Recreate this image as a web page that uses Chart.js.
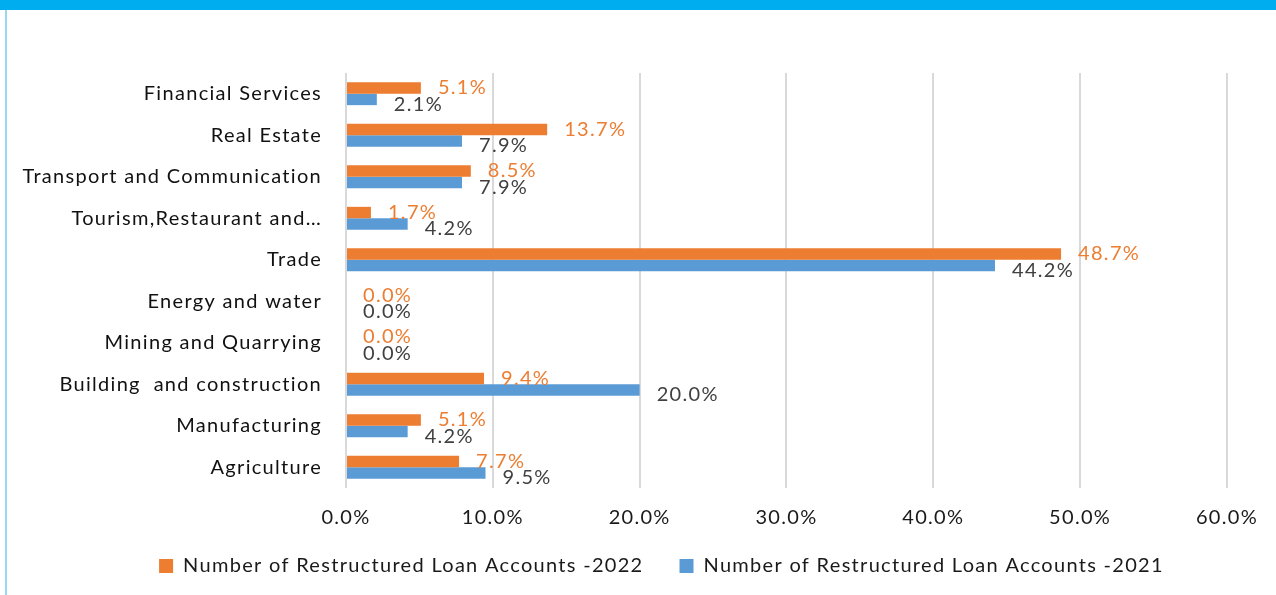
<!DOCTYPE html>
<html>
<head>
<meta charset="utf-8">
<script src="https://cdn.jsdelivr.net/npm/chart.js@4/dist/chart.umd.min.js"></script>
<style>
  html, body { margin: 0; padding: 0; background: #fff; }
  #wrap { position: relative; width: 1276px; height: 595px; overflow: hidden; }
  #band { position: absolute; left: 0; top: 0; width: 1276px; height: 10px; background: #00AEEF; }
  #edge { position: absolute; left: 5px; top: 10px; width: 2px; height: 585px; background: #9ad7f2; }
  #chart1 { position: absolute; left: 0; top: 0; }
</style>
</head>
<body>
<div id="wrap">
  <div id="band"></div>
  <div id="edge"></div>
  <canvas id="chart1" width="1276" height="595"></canvas>
</div>
<script>
// sectors, top to bottom as shown
const sectors = [
  "Financial Services",
  "Real Estate",
  "Transport and Communication",
  "Tourism,Restaurant and\u2026",
  "Trade",
  "Energy and water",
  "Mining and Quarrying",
  "Building  and construction",
  "Manufacturing",
  "Agriculture"
];

// share of restructured loan accounts (%)
const accounts2022 = [5.1, 13.7, 8.5, 1.7, 48.7, 0.0, 0.0, 9.4, 5.1, 7.7];
const accounts2021 = [2.1, 7.9, 7.9, 4.2, 44.2, 0.0, 0.0, 20.0, 4.2, 9.5];

const xTicks = [0, 10, 20, 30, 40, 50, 60];

const FONT = "Lato, 'Open Sans', sans-serif";

// the source text is spread out a little, like Excel renders it
const spacing = {
  id: "spacing",
  beforeUpdate(chart) { chart.ctx.letterSpacing = "1.3px"; },
  beforeDraw(chart) { chart.ctx.letterSpacing = "1.3px"; }
};

// tick labels may run outside their scale box (long sector names, x labels over the legend gap)
function noLabelClip(scale) {
  scale._computeLabelArea = () => undefined;
}

// value labels at the end of each bar
const barLabels = {
  id: "barLabels",
  afterDatasetsDraw(chart) {
    const ctx = chart.ctx;
    ctx.save();
    ctx.font = "20px " + FONT;
    ctx.textAlign = "left";
    ctx.textBaseline = "middle";
    chart.data.datasets.forEach((ds, i) => {
      const meta = chart.getDatasetMeta(i);
      ctx.fillStyle = i === 0 ? "#ED7D31" : "#404040";
      meta.data.forEach((bar, j) => {
        const yOff = i === 0 ? 0 : 5;
        ctx.fillText(ds.data[j].toFixed(1) + "%", bar.x + 17, bar.y + yOff);
      });
    });
    ctx.restore();
  }
};

const ctx = document.getElementById("chart1").getContext("2d");
new Chart(ctx, {
  type: "bar",
  data: {
    labels: sectors,
    datasets: [
      {
        label: "Number of Restructured Loan Accounts -2022",
        data: accounts2022,
        backgroundColor: "#ED7D31"
      },
      {
        label: "Number of Restructured Loan Accounts -2021",
        data: accounts2021,
        backgroundColor: "#5B9BD5"
      }
    ]
  },
  options: {
    indexAxis: "y",
    responsive: false,
    animation: false,
    devicePixelRatio: 1,
    categoryPercentage: 0.55,
    barPercentage: 1.0,
    layout: { padding: { top: 73, right: 47, left: 94, bottom: 9 } },
    scales: {
      x: {
        min: 0,
        max: 60,
        afterBuildTicks(scale) { scale.ticks = xTicks.map(v => ({ value: v })); },
        afterFit(scale) { scale.height = 32; noLabelClip(scale); },
        grid: { color: "#d9d9d9", lineWidth: 2, drawTicks: false },
        border: { display: false },
        ticks: {
          padding: 18,
          color: "#1a1a1a",
          font: { family: FONT, size: 20 },
          callback: v => v.toFixed(1) + "%"
        }
      },
      y: {
        afterFit(scale) { scale.width = 252; noLabelClip(scale); },
        grid: { display: false, drawTicks: false },
        border: { display: false },
        ticks: {
          padding: 24,
          color: "#111",
          font: { family: FONT, size: 20 }
        }
      }
    },
    plugins: {
      legend: {
        position: "bottom",
        labels: {
          boxWidth: 14,
          boxHeight: 14,
          padding: 36,
          color: "#1a1a1a",
          font: { family: FONT, size: 20 }
        }
      },
      tooltip: { enabled: false }
    }
  },
  plugins: [spacing, barLabels]
});
</script>
</body>
</html>
